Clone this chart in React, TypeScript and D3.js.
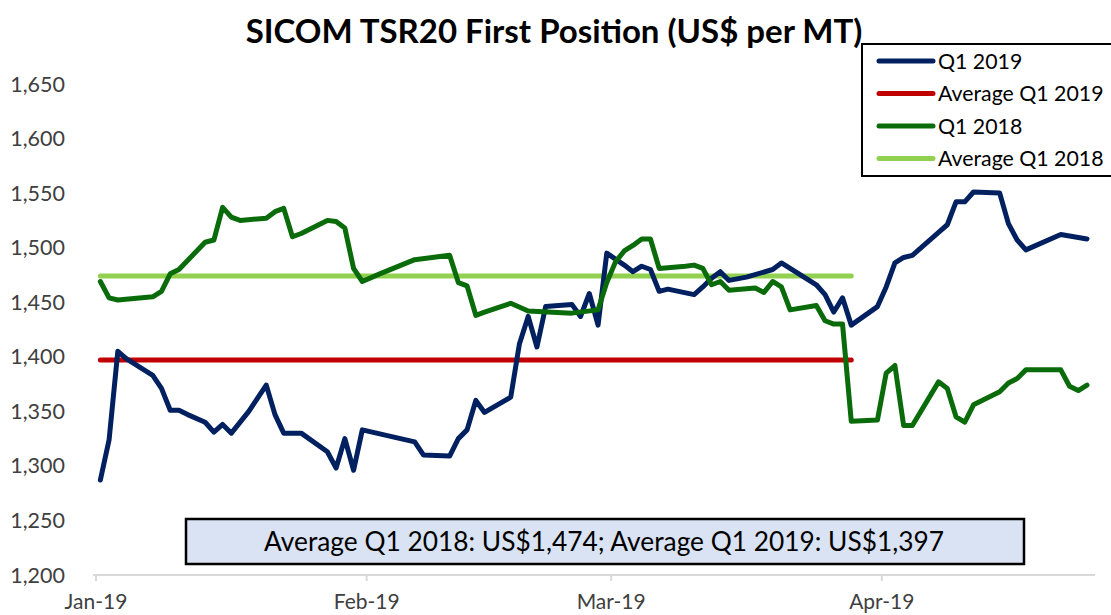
import React from "react";
import * as d3 from "d3";

// Day offsets from 2019-01-01 and values
const q19Days = [0,1,2,3,5,6,7,8,9,10,12,13,14,15,17,19,20,21,23,26,27,28,29,30,36,37,40,41,42,43,44,47,48,49,50,51,54,55,56,57,58,60,61,62,63,64,65,68,69,70,71,72,74,77,78,79,82,83,84,85,86,89,90,91,92,93,96,97,98,99,100,103,104,105,106,110,113];
const q19Values = [1287,1324,1405,1398,1388,1383,1371,1351,1351,1347,1340,1331,1338,1330,1350,1374,1347,1330,1330,1313,1298,1325,1296,1333,1322,1310,1309,1325,1333,1360,1349,1363,1412,1437,1409,1446,1448,1437,1458,1429,1495,1484,1478,1483,1480,1460,1462,1457,1464,1472,1478,1470,1473,1480,1486,1481,1466,1457,1441,1454,1429,1446,1464,1486,1491,1493,1514,1521,1542,1542,1551,1550,1522,1507,1498,1512,1508];

const q18Days = [0,1,2,6,7,8,9,12,13,14,15,16,19,20,21,22,23,26,27,28,29,30,32,36,40,41,42,43,44,47,49,54,57,58,59,60,61,62,63,64,67,68,69,70,71,72,75,76,77,78,79,82,83,84,85,86,89,90,91,92,93,96,97,98,99,100,103,104,105,106,110,111,112,113];
const q18Values = [1469,1454,1452,1455,1460,1476,1480,1505,1507,1537,1528,1525,1527,1533,1536,1510,1513,1525,1524,1518,1481,1469,1476,1489,1493,1468,1465,1438,1441,1449,1442,1440,1443,1468,1487,1497,1502,1508,1508,1481,1483,1484,1481,1466,1469,1461,1463,1459,1469,1464,1443,1447,1433,1430,1430,1341,1342,1385,1392,1337,1337,1377,1371,1345,1340,1356,1368,1376,1380,1388,1388,1373,1369,1374];

const avgQ118 = 1474;
const avgQ119 = 1397;
const avgStartDay = 0;
const avgEndDay = 86;

const yTicks = [1200,1250,1300,1350,1400,1450,1500,1550,1600,1650];
const xTickLabels = ["Jan-19","Feb-19","Mar-19","Apr-19"];
const xTickDates = [new Date(2019,0,1), new Date(2019,1,1), new Date(2019,2,1), new Date(2019,3,1)];

const seriesNames = ["Q1 2019","Average Q1 2019","Q1 2018","Average Q1 2018"];
const seriesColors = ["#002060","#C00000","#0A6B0A","#92D050"];

const titleText = "SICOM TSR20 First Position (US$ per MT)";
const noteText = "Average Q1 2018: US$1,474; Average Q1 2019: US$1,397";

const base = new Date(2019,0,1);
const dayDate = (d: number) => d3.timeHour.offset(base, d * 24 + 12);

export default function App() {
  const x = d3.scaleTime()
    .domain([base, d3.timeHour.offset(base, Math.round(114.4 * 24))])
    .range([96, 1095]);
  const y = d3.scaleLinear().domain([1200, 1650]).range([575, 84]);

  const line = d3.line<[number, number]>()
    .x((p) => x(dayDate(p[0])))
    .y((p) => y(p[1]));

  const q19 = q19Days.map((d, i) => [d, q19Values[i]] as [number, number]);
  const q18 = q18Days.map((d, i) => [d, q18Values[i]] as [number, number]);
  const avg19 = [[avgStartDay, avgQ119],[avgEndDay, avgQ119]] as [number, number][];
  const avg18 = [[avgStartDay, avgQ118],[avgEndDay, avgQ118]] as [number, number][];

  const font = "Lato, 'Open Sans', sans-serif";
  const lw = 5;

  return (
    <svg width={1111} height={615} style={{ position: "absolute", left: 0, top: 0, background: "#fff" }}>
      <rect x={0} y={0} width={1111} height={615} fill="#fff" />
      {/* x axis */}
      <line x1={x.range()[0] - 3} x2={x.range()[1]} y1={575} y2={575} stroke="#D9D9D9" strokeWidth={2} />
      {xTickDates.map((d, i) => (
        <g key={i}>
          <line x1={x(d)} x2={x(d)} y1={575} y2={581} stroke="#D9D9D9" strokeWidth={2} />
          <text x={x(d)} y={609} textAnchor="middle" fontFamily={font} fontSize={21} fill="#404040">{xTickLabels[i]}</text>
        </g>
      ))}
      {/* y labels */}
      {yTicks.map((t) => (
        <text key={t} x={65} y={y(t) + 7.5} textAnchor="end" fontFamily={font} fontSize={21.5} fill="#404040">{d3.format(",")(t)}</text>
      ))}
      {/* series */}
      <path d={line(avg19) || ""} fill="none" stroke={seriesColors[1]} strokeWidth={lw} strokeLinecap="round" />
      <path d={line(avg18) || ""} fill="none" stroke={seriesColors[3]} strokeWidth={lw} strokeLinecap="round" />
      <path d={line(q19) || ""} fill="none" stroke={seriesColors[0]} strokeWidth={lw} strokeLinejoin="round" strokeLinecap="round" />
      <path d={line(q18) || ""} fill="none" stroke={seriesColors[2]} strokeWidth={lw} strokeLinejoin="round" strokeLinecap="round" />
      {/* title */}
      <text x={554} y={43} textAnchor="middle" fontFamily={font} fontWeight={700} fontSize={33} fill="#000">{titleText}</text>
      {/* legend */}
      <rect x={862} y={44} width={260} height={132} fill="#fff" stroke="#000" strokeWidth={2} />
      {seriesNames.map((n, i) => (
        <g key={n}>
          <line x1={879} x2={933} y1={61 + i * 32.5} y2={61 + i * 32.5} stroke={seriesColors[i]} strokeWidth={lw} strokeLinecap="round" />
          <text x={938} y={61 + i * 32.5 + 7.5} fontFamily={font} fontSize={21.3} fill="#000">{n}</text>
        </g>
      ))}
      {/* note */}
      <rect x={186} y={519} width={838} height={45} fill="#DAE3F3" stroke="#000" strokeWidth={2.5} />
      <text x={604} y={550.5} textAnchor="middle" fontFamily={font} fontSize={26.3} fill="#000">{noteText}</text>
    </svg>
  );
}
